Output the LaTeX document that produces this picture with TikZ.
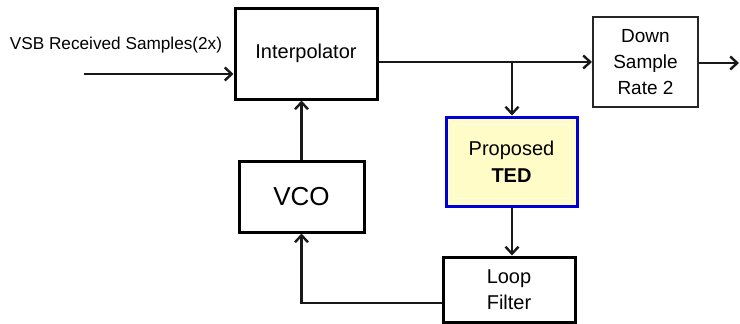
\documentclass[tikz,border=0pt]{standalone}
\usepackage{fontspec}
\setmainfont{Liberation Sans}
\usetikzlibrary{arrows.meta,calc}
\begin{document}
\begin{tikzpicture}[x=1pt,y=-1pt,
  blockA/.style={draw=black,line width=3pt,fill=white,inner sep=0pt,align=center,font=\fontsize{20}{25}\selectfont},
  blockB/.style={draw=black!85,line width=2pt,fill=white,inner sep=0pt,align=center,font=\fontsize{19}{26}\selectfont},
  tedbox/.style={draw=blue!85!black,line width=3pt,fill=yellow!22,inner sep=0pt,align=center,font=\fontsize{20}{27}\selectfont},
  wire/.style={line width=2.6pt,draw=black!90},
  arr/.style={wire,-{Straight Barb[length=7pt,width=13pt,line width=2.4pt]}}]
\useasboundingbox (0,0) rectangle (740,324);

% blocks
\node[blockA,minimum width=142pt,minimum height=91pt] (interp) at (306,53.5) {Interpolator};
\node[blockB,minimum width=105pt,minimum height=90pt] (ds) at (645.5,62) {Down\\Sample\\Rate 2};
\node[tedbox,minimum width=131pt,minimum height=89pt] (ted) at (511.5,161.5) {};
\draw[yellow!10,line width=1pt] ($(ted.south west)+(9,-9)$) rectangle ($(ted.north east)+(-9,9)$);
\node[align=center,font=\fontsize{20}{27}\selectfont] (tedtxt) at (ted.center) {Proposed\\\textbf{TED}};
\node[blockA,minimum width=132pt,minimum height=65pt,font=\fontsize{20}{26}\selectfont] (lf) at (509,289.5) {Loop\\Filter};
\node[blockA,minimum width=125pt,minimum height=71pt,font=\fontsize{26}{30}\selectfont] (vco) at (301.5,196.5) {VCO};

% input label and arrow
\node[font=\fontsize{17.2}{20}\selectfont,inner sep=0pt] (inlabel) at (116,45) {VSB Received Samples(2x)};
\coordinate (in) at (84,74);
\draw[arr] (in) -- (interp.west |- in);

% forward path
\coordinate (split) at (512,62);
\draw[arr] (interp.east |- split) -- (ds.west);
\coordinate (out) at (739,63);
\draw[arr] (ds.east |- out) -- (out);
\draw[arr] (split) -- (split |- ted.north);
\draw[arr] (ted.south -| split) -- (split |- lf.north);

% feedback loop
\coordinate (lfout) at ($(lf.west)+(0,13.5)$);
\draw[arr] (lfout) -| (vco.south);
\draw[arr] (vco.north) -- (vco.north |- interp.south);
\end{tikzpicture}
\end{document}
